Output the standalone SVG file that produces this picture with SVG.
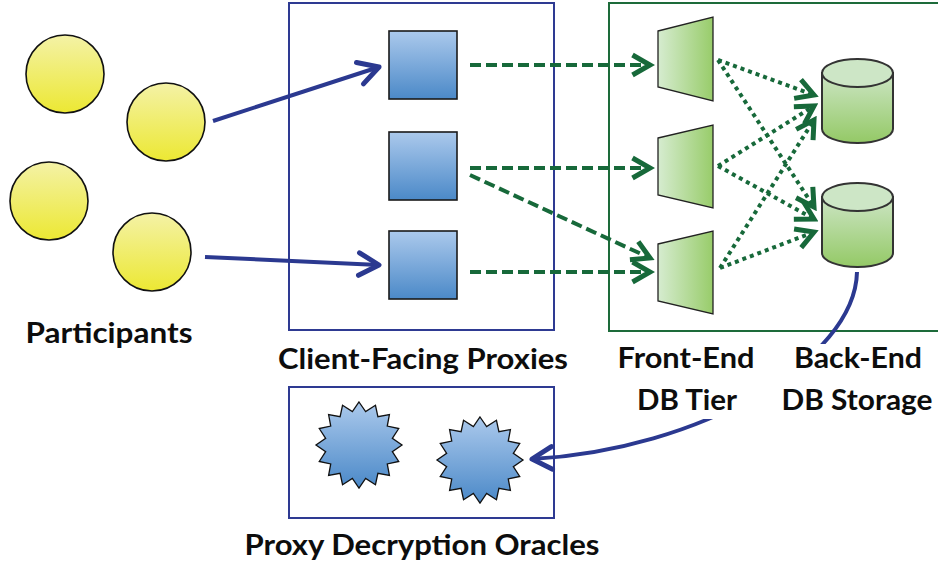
<svg xmlns="http://www.w3.org/2000/svg" width="938" height="567" viewBox="0 0 938 567">
<defs>
<linearGradient id="gYellow" x1="0" y1="0" x2="0" y2="1">
<stop offset="0" stop-color="#f4f2a6"/><stop offset="1" stop-color="#ece833"/>
</linearGradient>
<linearGradient id="gBlue" x1="0" y1="0" x2="0" y2="1">
<stop offset="0" stop-color="#abc9ec"/><stop offset="1" stop-color="#4b89c8"/>
</linearGradient>
<linearGradient id="gTrap" x1="0" y1="0" x2="1" y2="0">
<stop offset="0" stop-color="#d6ecd0"/><stop offset="1" stop-color="#98cc6a"/>
</linearGradient>
<linearGradient id="gCyl" x1="0" y1="0" x2="0" y2="1">
<stop offset="0" stop-color="#cce5c4"/><stop offset="1" stop-color="#94c966"/>
</linearGradient>
<marker id="aBlue" markerUnits="userSpaceOnUse" markerWidth="30" markerHeight="30" viewBox="-20 -12 24 24" refX="0" refY="0" orient="auto">
<path d="M-16,-9 L0,0 L-16,9" fill="none" stroke="#2b3990" stroke-width="4" stroke-linecap="round" stroke-linejoin="round"/>
</marker>
<marker id="aGreen" markerUnits="userSpaceOnUse" markerWidth="30" markerHeight="30" viewBox="-20 -12 24 24" refX="0" refY="0" orient="auto">
<path d="M-14,-8 L0,0 L-14,8" fill="none" stroke="#17693a" stroke-width="4" stroke-linejoin="miter"/>
</marker>
<mask id="gapMask" maskUnits="userSpaceOnUse" x="0" y="0" width="938" height="567">
<rect x="0" y="0" width="938" height="567" fill="#fff"/>
<rect x="700" y="344" width="150" height="75" fill="#000"/>
</mask>
<polygon id="star" points="0,-43 6.63,-33.35 16.46,-39.73 18.89,-28.27 30.41,-30.41 28.27,-18.89 39.73,-16.46 33.35,-6.63 43,0 33.35,6.63 39.73,16.46 28.27,18.89 30.41,30.41 18.89,28.27 16.46,39.73 6.63,33.35 0,43 -6.63,33.35 -16.46,39.73 -18.89,28.27 -30.41,30.41 -28.27,18.89 -39.73,16.46 -33.35,6.63 -43,0 -33.35,-6.63 -39.73,-16.46 -28.27,-18.89 -30.41,-30.41 -18.89,-28.27 -16.46,-39.73 -6.63,-33.35"/>
</defs>
<style>
.participant{fill:url(#gYellow);stroke:#111;stroke-width:1.6}
.proxy{fill:url(#gBlue);stroke:#1a1a1a;stroke-width:1.6}
.trap{fill:url(#gTrap);stroke:#222;stroke-width:1.3}
.cyl{fill:url(#gCyl);stroke:#333;stroke-width:2}
.cyltop{fill:#cde6c6;stroke:#333;stroke-width:2}
.oracle{fill:url(#gBlue);stroke:#111;stroke-width:1.3}
.box-blue{fill:none;stroke:#2e3a92;stroke-width:2}
.box-green{fill:none;stroke:#1d6b3a;stroke-width:2}
.blue-arrow{fill:none;stroke:#2b3990;stroke-width:4;marker-end:url(#aBlue)}
.dash{fill:none;stroke:#17693a;stroke-width:4;stroke-dasharray:11 5;marker-end:url(#aGreen)}
.dot{fill:none;stroke:#17693a;stroke-width:4;stroke-dasharray:4 4;marker-end:url(#aGreen)}
.lbl{font-family:"Lato","Liberation Sans",sans-serif;font-weight:bold;font-size:29px;fill:#0d0d0d;text-anchor:middle}
</style>

<g id="group-proxies"><rect class="box-blue" x="289" y="3" width="265" height="327"/></g>
<g id="group-db"><rect class="box-green" x="609" y="3" width="340" height="328"/></g>
<g id="group-oracles"><rect class="box-blue" x="289" y="387" width="265" height="131"/></g>

<g id="participant-1"><circle class="participant" cx="65" cy="74" r="39"/></g>
<g id="participant-2"><circle class="participant" cx="166" cy="122" r="39"/></g>
<g id="participant-3"><circle class="participant" cx="49" cy="201" r="39"/></g>
<g id="participant-4"><circle class="participant" cx="152" cy="252" r="39"/></g>

<g id="proxy-1"><rect class="proxy" x="389" y="31" width="68" height="68"/></g>
<g id="proxy-2"><rect class="proxy" x="389" y="132" width="68" height="68"/></g>
<g id="proxy-3"><rect class="proxy" x="389" y="231" width="68" height="68"/></g>

<g id="frontend-1"><polygon class="trap" points="658,31 713,17 713,101 658,87"/></g>
<g id="frontend-2"><polygon class="trap" points="658,138 713,125 713,208 658,195"/></g>
<g id="frontend-3"><polygon class="trap" points="658,244 713,231 713,314 658,301"/></g>

<g id="storage-1">
<path class="cyl" d="M822,73 L822,129 A35.5,14 0 0 0 893,129 L893,73 Z"/>
<ellipse class="cyltop" cx="857.5" cy="73" rx="35.5" ry="14"/>
</g>
<g id="storage-2">
<path class="cyl" d="M822,197 L822,253 A35.5,14 0 0 0 893,253 L893,197 Z"/>
<ellipse class="cyltop" cx="857.5" cy="197" rx="35.5" ry="14"/>
</g>

<g id="oracle-1"><use href="#star" class="oracle" transform="translate(359,445)"/></g>
<g id="oracle-2"><use href="#star" class="oracle" transform="translate(480,460)"/></g>

<g id="connectors">
<path class="blue-arrow" d="M213,121 L379,67"/>
<path class="blue-arrow" d="M205,257 L379,265"/>
<path class="dash" d="M470,65 L650,65"/>
<path class="dash" d="M470,168 L650,168"/>
<path class="dash" d="M470,175 L650,258"/>
<path class="dash" d="M470,272 L650,272"/>
<path class="dot" d="M718,60 L814,95"/>
<path class="dot" d="M718,60 L814,207"/>
<path class="dot" d="M718,166 L814,106"/>
<path class="dot" d="M718,166 L814,219"/>
<path class="dot" d="M720,268 L814,120"/>
<path class="dot" d="M720,268 L814,232"/>
<path class="blue-arrow" mask="url(#gapMask)" d="M857,272 C855,360 700,450 532,459"/>
</g>

<g id="labels">
<text class="lbl" x="109" y="343" textLength="167" lengthAdjust="spacingAndGlyphs">Participants</text>
<text class="lbl" x="423" y="369" textLength="290" lengthAdjust="spacingAndGlyphs">Client-Facing Proxies</text>
<text class="lbl" x="686" y="368" textLength="137" lengthAdjust="spacingAndGlyphs">Front-End</text>
<text class="lbl" x="687" y="410" textLength="100" lengthAdjust="spacingAndGlyphs">DB Tier</text>
<text class="lbl" x="858" y="368" textLength="128" lengthAdjust="spacingAndGlyphs">Back-End</text>
<text class="lbl" x="857" y="410" textLength="151" lengthAdjust="spacingAndGlyphs">DB Storage</text>
<text class="lbl" x="422" y="555" textLength="355" lengthAdjust="spacingAndGlyphs">Proxy Decryption Oracles</text>
</g>
</svg>
